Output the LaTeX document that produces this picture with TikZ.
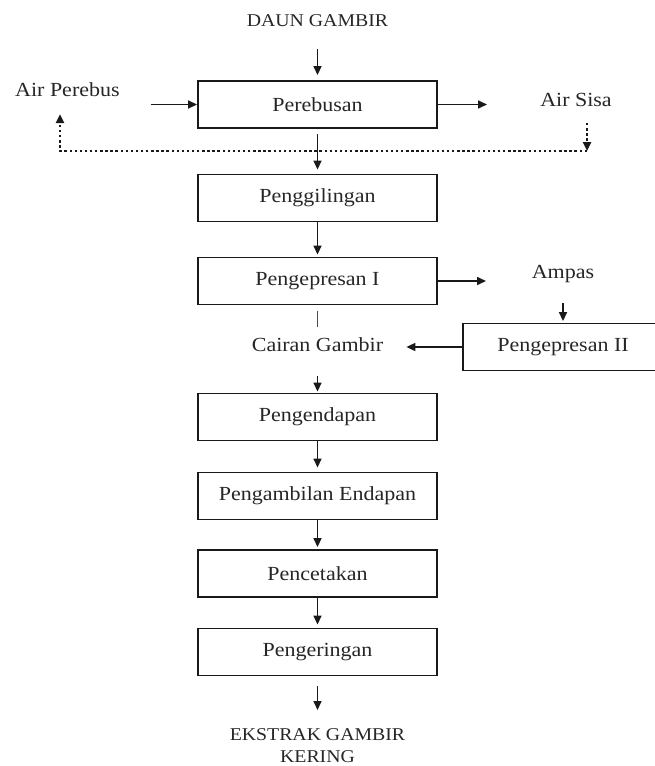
\documentclass[tikz,border=0pt]{standalone}
\usepackage{fontspec}
\setmainfont{Liberation Serif}[FakeStretch=1.1]
\usetikzlibrary{arrows.meta,calc}
\definecolor{txtc}{HTML}{262626}
\begin{document}
\begin{tikzpicture}[x=1pt,y=-1pt,
  every node/.style={text=txtc},
  box/.style={draw=black!90, line width=1.9pt, minimum width=239pt, minimum height=47pt, inner sep=0pt, font=\fontsize{20}{24}\selectfont},
  lbl/.style={inner sep=0pt, text height=13pt, text depth=4pt, font=\fontsize{20}{24}\selectfont},
  caplbl/.style={inner sep=0pt, text height=13pt, text depth=4pt, font=\fontsize{18}{22}\selectfont},
  tip/.style={-{Triangle[length=9pt,width=8pt]}},
  arr/.style={draw=black!90, line width=1.6pt, tip},
  plainline/.style={draw=black!70, line width=1.5pt},
  dotline/.style={draw=black!90, line width=2.4pt, dash pattern=on 2.4pt off 2.7pt},
]
\path[use as bounding box] (0,0) rectangle (654,766);

% main column
\node[caplbl] (daun) at (317.5,22) {DAUN GAMBIR};
\node[box] (rebus) at (317.5,104.5) {Perebusan};
\node[box] (giling) at (317.5,198) {Penggilingan};
\node[box] (press1) at (317.5,281) {Pengepresan I};
\node[lbl] (cairan) at (317.5,347) {Cairan Gambir};
\node[box] (endap) at (317.5,417) {Pengendapan};
\node[box] (ambil) at (317.5,496) {Pengambilan Endapan};
\node[box] (cetak) at (317.5,573.5) {Pencetakan};
\node[box] (kering) at (317.5,652) {Pengeringan};
\node[caplbl, align=center, anchor=north, text height=, text depth=] (ekstrak) at (317.5,728) {EKSTRAK GAMBIR\\KERING};

% side labels
\node[lbl, anchor=west] (airp) at (15,92) {Air Perebus};
\node[lbl] (airs) at (576,102) {Air Sisa};
\node[lbl] (ampas) at (563,274) {Ampas};
\node[box, minimum width=200pt] (press2) at (563,347) {Pengepresan II};

% free ends
\coordinate (airin) at (151,104.5);
\coordinate (airout) at (487,104.5);
\coordinate (ampasin) at (486,281);
\coordinate (dRtop) at (587,123);
\coordinate (dR) at (587,151);
\coordinate (dL) at (60,151);
\coordinate (dLtop) at (60,114);

% vertical flow
\draw[arr, shorten <=18.5pt, shorten >=5pt] (daun) -- (rebus);
\draw[arr, shorten <=5pt, shorten >=4pt] (rebus) -- (giling);
\draw[arr, shorten >=2pt] (giling) -- (press1);
\draw[plainline, shorten <=5.5pt, shorten >=11.5pt] (press1) -- (cairan);
\draw[arr, shorten <=20pt, shorten >=1pt] (cairan) -- (endap);
\draw[arr, shorten >=4pt] (endap) -- (ambil);
\draw[arr, shorten >=2pt] (ambil) -- (cetak);
\draw[arr, shorten >=3pt] (cetak) -- (kering);
\draw[arr, shorten <=9.5pt, shorten >=18pt] (kering.south) -- (kering.south |- ekstrak.north);

% horizontal flows
\draw[arr] (airin) -- (rebus.west);
\draw[arr] (rebus.east) -- (airout);
\draw[arr] (press1.east) -- (ampasin);
\draw[arr, shorten <=20.5pt, shorten >=1.5pt] (ampas) -- (press2);
\draw[arr] (press2.west) -- ([xshift=23pt]cairan.east);

% recycle (dotted)
\draw[dotline, tip] (dRtop) -- (dR);
\draw[dotline, tip] (dR) -- (dL) -- (dLtop);
\end{tikzpicture}
\end{document}
